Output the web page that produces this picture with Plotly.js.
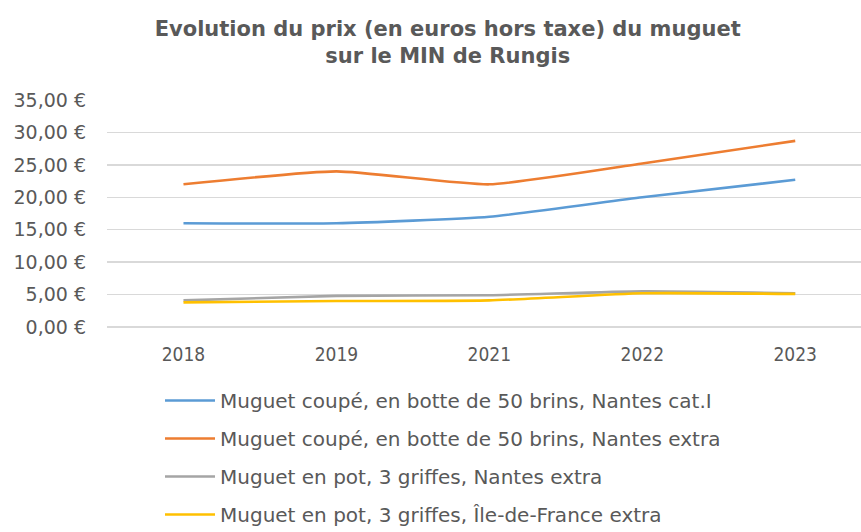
<!DOCTYPE html>
<html>
<head>
<meta charset="utf-8">
<script src="https://cdn.plot.ly/plotly-3.0.1.min.js"></script>
<style>html,body{margin:0;padding:0;background:#fff;}#chart{width:861px;height:532px;}</style>
</head>
<body>
<div id="chart"></div>
<script>
const years = ["2018", "2019", "2021", "2022", "2023"];
const coupeCatI = [16, 16, 17, 20, 22.7];
const coupeExtra = [22, 24, 22, 25.2, 28.7];
const potNantes = [4.1, 4.8, 4.9, 5.5, 5.2];
const potIdf = [3.8, 4.0, 4.1, 5.2, 5.1];
const seriesNames = [
  "Muguet coupé, en botte de 50 brins, Nantes cat.I",
  "Muguet coupé, en botte de 50 brins, Nantes extra",
  "Muguet en pot, 3 griffes, Nantes extra",
  "Muguet en pot, 3 griffes, Île-de-France extra"
];
const yTickVals = [0, 5, 10, 15, 20, 25, 30, 35];
const yTickText = ["0,00 €", "5,00 €", "10,00 €", "15,00 €", "20,00 €", "25,00 €", "30,00 €", "35,00 €"];
const colors = ["#5b9bd5", "#ed7d31", "#a5a5a5", "#ffc000"];
const values = [coupeCatI, coupeExtra, potNantes, potIdf];

const traces = values.map((v, i) => ({
  x: years, y: v, name: seriesNames[i], type: "scatter", mode: "lines",
  line: {color: colors[i], width: 2.6, shape: "spline", smoothing: 0.5},
  legendgroup: "g" + i,
  hoverinfo: "skip"
}));

const layout = {
  width: 861, height: 532,
  margin: {l: 107, r: 0, t: 100, b: 205},
  paper_bgcolor: "#fff", plot_bgcolor: "#fff",
  showlegend: true,
  title: {
    text: "Evolution du prix (en euros hors taxe) du muguet<br>sur le MIN de Rungis",
    font: {family: "DejaVu Sans", size: 21, color: "#595959", weight: "bold"},
    x: 0.52, xanchor: "center", xref: "container",
    y: 1 - 36/532, yanchor: "top", yref: "container"
  },
  xaxis: {
    type: "category", range: [-0.5, 4.43],
    showgrid: false, zeroline: false, showline: false, ticks: "",
    tickangle: 0,
    tickfont: {family: "Liberation Sans Narrow, DejaVu Sans Condensed, sans-serif", size: 19, color: "#595959"},
    ticklabelstandoff: 14, fixedrange: true
  },
  yaxis: {
    range: [0, 35], tickvals: yTickVals, ticktext: yTickText,
    showgrid: true, gridcolor: "#d9d9d9", gridwidth: 1.3,
    zeroline: true, zerolinecolor: "#d9d9d9", zerolinewidth: 1.3,
    showline: false, ticks: "",
    tickfont: {family: "DejaVu Sans", size: 19, color: "#595959"},
    ticklabelstandoff: 20, fixedrange: true
  },
  legend: {
    orientation: "v", traceorder: "grouped", tracegroupgap: 9,
    xref: "paper", yref: "container",
    x: (160 - 107) / 754, xanchor: "left", y: 1 - 381/532, yanchor: "top",
    font: {family: "DejaVu Sans", size: 20, color: "#595959"},
    bgcolor: "rgba(0,0,0,0)", itemwidth: 50
  }
};

Plotly.newPlot("chart", traces, layout, {staticPlot: true, displayModeBar: false});
</script>
</body>
</html>
